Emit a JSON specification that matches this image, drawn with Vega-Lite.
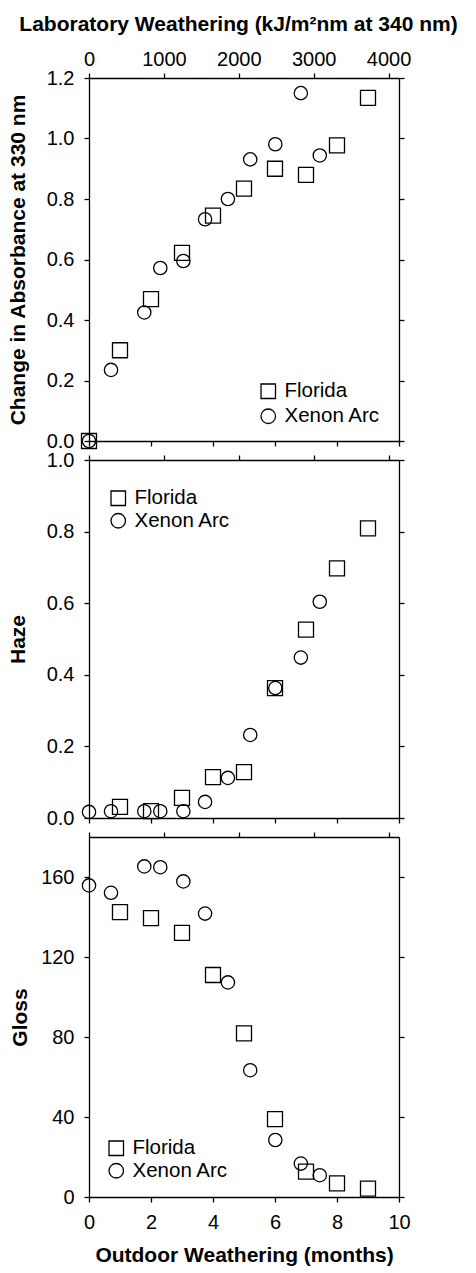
{
  "$schema": "https://vega.github.io/schema/vega-lite/v6.json",
  "padding": {"left": 7, "top": 13, "right": 5, "bottom": 5},
  "background": "white",
  "datasets": {
    "abs": [
      {"series": "Florida", "months": 0, "value": 0.0},
      {"series": "Florida", "months": 1, "value": 0.300},
      {"series": "Florida", "months": 2, "value": 0.469},
      {"series": "Florida", "months": 3, "value": 0.622},
      {"series": "Florida", "months": 4, "value": 0.745},
      {"series": "Florida", "months": 5, "value": 0.834},
      {"series": "Florida", "months": 6, "value": 0.900},
      {"series": "Florida", "months": 7, "value": 0.880},
      {"series": "Florida", "months": 8, "value": 0.977},
      {"series": "Florida", "months": 9, "value": 1.134},
      {"series": "Xenon Arc", "kJ": 0, "value": 0.0},
      {"series": "Xenon Arc", "kJ": 294, "value": 0.235},
      {"series": "Xenon Arc", "kJ": 738, "value": 0.425},
      {"series": "Xenon Arc", "kJ": 952, "value": 0.572},
      {"series": "Xenon Arc", "kJ": 1260, "value": 0.595},
      {"series": "Xenon Arc", "kJ": 1550, "value": 0.733},
      {"series": "Xenon Arc", "kJ": 1855, "value": 0.800},
      {"series": "Xenon Arc", "kJ": 2153, "value": 0.931},
      {"series": "Xenon Arc", "kJ": 2488, "value": 0.981},
      {"series": "Xenon Arc", "kJ": 2829, "value": 1.150},
      {"series": "Xenon Arc", "kJ": 3082, "value": 0.944}
    ],
    "haze": [
      {"series": "Florida", "months": 1, "value": 0.031},
      {"series": "Florida", "months": 2, "value": 0.019},
      {"series": "Florida", "months": 3, "value": 0.056},
      {"series": "Florida", "months": 4, "value": 0.114},
      {"series": "Florida", "months": 5, "value": 0.128},
      {"series": "Florida", "months": 6, "value": 0.363},
      {"series": "Florida", "months": 7, "value": 0.526},
      {"series": "Florida", "months": 8, "value": 0.697},
      {"series": "Florida", "months": 9, "value": 0.809},
      {"series": "Xenon Arc", "kJ": 0, "value": 0.017},
      {"series": "Xenon Arc", "kJ": 294, "value": 0.019},
      {"series": "Xenon Arc", "kJ": 738, "value": 0.019},
      {"series": "Xenon Arc", "kJ": 952, "value": 0.019},
      {"series": "Xenon Arc", "kJ": 1260, "value": 0.019},
      {"series": "Xenon Arc", "kJ": 1550, "value": 0.045},
      {"series": "Xenon Arc", "kJ": 1855, "value": 0.112},
      {"series": "Xenon Arc", "kJ": 2153, "value": 0.232},
      {"series": "Xenon Arc", "kJ": 2488, "value": 0.363},
      {"series": "Xenon Arc", "kJ": 2829, "value": 0.448},
      {"series": "Xenon Arc", "kJ": 3082, "value": 0.604}
    ],
    "gloss": [
      {"series": "Florida", "months": 1, "value": 142.4},
      {"series": "Florida", "months": 2, "value": 139.4},
      {"series": "Florida", "months": 3, "value": 132.1},
      {"series": "Florida", "months": 4, "value": 111.0},
      {"series": "Florida", "months": 5, "value": 81.8},
      {"series": "Florida", "months": 6, "value": 38.9},
      {"series": "Florida", "months": 7, "value": 12.7},
      {"series": "Florida", "months": 8, "value": 6.8},
      {"series": "Florida", "months": 9, "value": 4.2},
      {"series": "Xenon Arc", "kJ": 0, "value": 155.8},
      {"series": "Xenon Arc", "kJ": 294, "value": 152.1},
      {"series": "Xenon Arc", "kJ": 738, "value": 165.3},
      {"series": "Xenon Arc", "kJ": 952, "value": 164.9},
      {"series": "Xenon Arc", "kJ": 1260, "value": 157.8},
      {"series": "Xenon Arc", "kJ": 1550, "value": 141.7},
      {"series": "Xenon Arc", "kJ": 1855, "value": 107.3},
      {"series": "Xenon Arc", "kJ": 2153, "value": 63.4},
      {"series": "Xenon Arc", "kJ": 2488, "value": 28.5},
      {"series": "Xenon Arc", "kJ": 2829, "value": 16.7},
      {"series": "Xenon Arc", "kJ": 3082, "value": 10.9}
    ]
  },
  "config": {
    "view": {"stroke": null},
    "font": "Liberation Sans",
    "axis": {
      "grid": false, "domainColor": "black", "domainWidth": 1.3,
      "tickColor": "black", "tickWidth": 1.3, "tickSize": 5,
      "labelColor": "black", "labelFont": "Liberation Sans", "labelFontSize": 20,
      "labelPadding": 8, "labelFlush": false, "labelOverlap": false,
      "titleFont": "Liberation Sans", "titleFontSize": 21, "titleFontWeight": "bold", "titleColor": "black"
    },
    "legend": {
      "labelFont": "Liberation Sans", "labelFontSize": 20.5, "labelColor": "black",
      "symbolSize": 210, "symbolStrokeColor": "black", "symbolStrokeWidth": 1.3,
      "rowPadding": 1.5, "padding": 0, "labelOffset": 6
    }
  },
  "spacing": 19,
  "bounds": "flush",
  "resolve": {"scale": {"shape": "independent"}, "legend": {"shape": "independent"}},
  "vconcat": [
    {
      "width": 310, "height": 363,
      "data": {"name": "abs"},
      "layer": [
        {
          "transform": [{"filter": "datum.series === 'Florida'"}],
          "mark": {"type": "point", "filled": false, "stroke": "black", "strokeWidth": 1.3, "size": 225, "opacity": 1},
          "encoding": {
            "x": {"field": "months", "type": "quantitative", "scale": {"domain": [0, 10], "nice": false},
                  "axis": {"orient": "bottom", "values": [0, 2, 4, 6, 8, 10], "labels": false, "title": null}},
            "y": {"field": "value", "type": "quantitative", "scale": {"domain": [0, 1.2], "nice": false},
                  "axis": {"orient": "left", "values": [0, 0.2, 0.4, 0.6, 0.8, 1.0, 1.2], "format": ".1f", "labelPadding": 10, "title": "Change in Absorbance at 330 nm", "titlePadding": 17.5}},
            "shape": {"field": "series", "type": "nominal", "scale": {"domain": ["Florida", "Xenon Arc"], "range": ["square", "circle"]},
                      "legend": {"orient": "none", "legendX": 169, "legendY": 303, "rowPadding": 4, "title": null}}
          }
        },
        {
          "transform": [{"filter": "datum.series === 'Xenon Arc'"}],
          "mark": {"type": "point", "filled": false, "stroke": "black", "strokeWidth": 1.3, "size": 177, "opacity": 1},
          "encoding": {
            "x": {"field": "kJ", "type": "quantitative", "scale": {"domain": [0, 4140], "nice": false},
                  "axis": {"orient": "top", "values": [0, 1000, 2000, 3000, 4000], "format": "d", "labelPadding": 4, "title": "Laboratory Weathering (kJ/m²nm at 340 nm)", "titlePadding": 15, "titleX": 149}},
            "y": {"field": "value", "type": "quantitative", "scale": {"domain": [0, 1.2], "nice": false},
                  "axis": {"orient": "right", "values": [0, 0.2, 0.4, 0.6, 0.8, 1.0, 1.2], "labels": false, "title": null}},
            "shape": {"field": "series", "type": "nominal", "scale": {"domain": ["Florida", "Xenon Arc"], "range": ["square", "circle"]},
                      "legend": {"orient": "none", "legendX": 169, "legendY": 303, "rowPadding": 4, "title": null}}
          }
        }
      ],
      "resolve": {"scale": {"x": "independent", "y": "independent"}}
    },
    {
      "width": 310, "height": 358,
      "data": {"name": "haze"},
      "layer": [
        {
          "transform": [{"filter": "datum.series === 'Florida'"}],
          "mark": {"type": "point", "filled": false, "stroke": "black", "strokeWidth": 1.3, "size": 225, "opacity": 1},
          "encoding": {
            "x": {"field": "months", "type": "quantitative", "scale": {"domain": [0, 10], "nice": false},
                  "axis": {"orient": "bottom", "values": [0, 2, 4, 6, 8, 10], "labels": false, "title": null}},
            "y": {"field": "value", "type": "quantitative", "scale": {"domain": [0, 1.0], "nice": false},
                  "axis": {"orient": "left", "values": [0, 0.2, 0.4, 0.6, 0.8, 1.0], "format": ".1f", "labelPadding": 10, "title": "Haze", "titlePadding": 17.5}},
            "shape": {"field": "series", "type": "nominal", "scale": {"domain": ["Florida", "Xenon Arc"], "range": ["square", "circle"]},
                      "legend": {"orient": "none", "legendX": 19, "legendY": 28, "title": null}}
          }
        },
        {
          "transform": [{"filter": "datum.series === 'Xenon Arc'"}],
          "mark": {"type": "point", "filled": false, "stroke": "black", "strokeWidth": 1.3, "size": 177, "opacity": 1},
          "encoding": {
            "x": {"field": "kJ", "type": "quantitative", "scale": {"domain": [0, 4140], "nice": false},
                  "axis": {"orient": "top", "values": [0, 1000, 2000, 3000, 4000], "labels": false, "title": null}},
            "y": {"field": "value", "type": "quantitative", "scale": {"domain": [0, 1.0], "nice": false},
                  "axis": {"orient": "right", "values": [0, 0.2, 0.4, 0.6, 0.8, 1.0], "labels": false, "title": null}},
            "shape": {"field": "series", "type": "nominal", "scale": {"domain": ["Florida", "Xenon Arc"], "range": ["square", "circle"]},
                      "legend": {"orient": "none", "legendX": 19, "legendY": 28, "title": null}}
          }
        }
      ],
      "resolve": {"scale": {"x": "independent", "y": "independent"}}
    },
    {
      "width": 310, "height": 360,
      "data": {"name": "gloss"},
      "layer": [
        {
          "transform": [{"filter": "datum.series === 'Florida'"}],
          "mark": {"type": "point", "filled": false, "stroke": "black", "strokeWidth": 1.3, "size": 225, "opacity": 1},
          "encoding": {
            "x": {"field": "months", "type": "quantitative", "scale": {"domain": [0, 10], "nice": false},
                  "axis": {"orient": "bottom", "values": [0, 2, 4, 6, 8, 10], "format": "d", "labelPadding": 10, "title": "Outdoor Weathering (months)", "titlePadding": 12}},
            "y": {"field": "value", "type": "quantitative", "scale": {"domain": [0, 180], "nice": false},
                  "axis": {"orient": "left", "values": [0, 40, 80, 120, 160], "format": "d", "labelPadding": 10, "title": "Gloss", "titlePadding": 10.5}},
            "shape": {"field": "series", "type": "nominal", "scale": {"domain": ["Florida", "Xenon Arc"], "range": ["square", "circle"]},
                      "legend": {"orient": "none", "legendX": 17, "legendY": 301, "title": null}}
          }
        },
        {
          "transform": [{"filter": "datum.series === 'Xenon Arc'"}],
          "mark": {"type": "point", "filled": false, "stroke": "black", "strokeWidth": 1.3, "size": 177, "opacity": 1},
          "encoding": {
            "x": {"field": "kJ", "type": "quantitative", "scale": {"domain": [0, 4140], "nice": false},
                  "axis": {"orient": "top", "values": [0, 1000, 2000, 3000, 4000], "labels": false, "title": null}},
            "y": {"field": "value", "type": "quantitative", "scale": {"domain": [0, 180], "nice": false},
                  "axis": {"orient": "right", "values": [0, 40, 80, 120, 160], "labels": false, "title": null}},
            "shape": {"field": "series", "type": "nominal", "scale": {"domain": ["Florida", "Xenon Arc"], "range": ["square", "circle"]},
                      "legend": {"orient": "none", "legendX": 17, "legendY": 301, "title": null}}
          }
        }
      ],
      "resolve": {"scale": {"x": "independent", "y": "independent"}}
    }
  ]
}
